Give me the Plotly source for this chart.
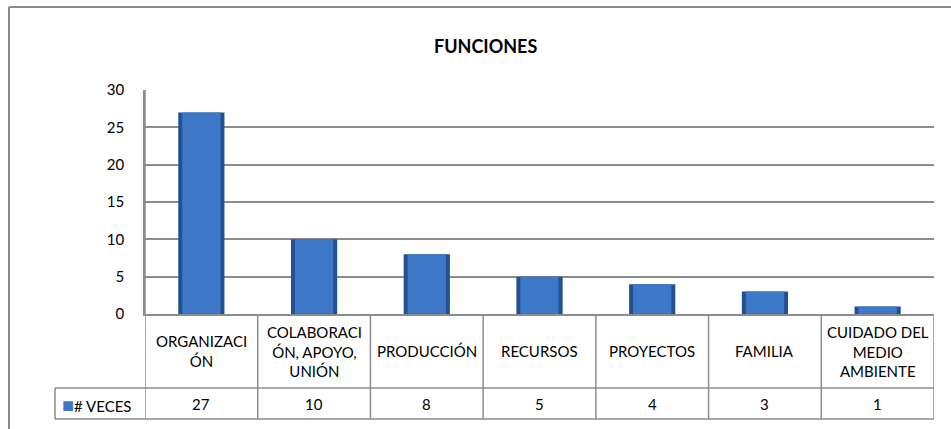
import plotly.graph_objects as go

categorias = ["ORGANIZACIÓN", "COLABORACIÓN, APOYO, UNIÓN", "PRODUCCIÓN", "RECURSOS",
              "PROYECTOS", "FAMILIA", "CUIDADO DEL MEDIO AMBIENTE"]
etiquetas = ["ORGANIZACI<br>ÓN", "COLABORACI<br>ÓN, APOYO,<br>UNIÓN", "PRODUCCIÓN", "RECURSOS",
             "PROYECTOS", "FAMILIA", "CUIDADO DEL<br>MEDIO<br>AMBIENTE"]
veces = [27, 10, 8, 5, 4, 3, 1]
serie = "# VECES"
titulo = "FUNCIONES"
y_ticks = [0, 5, 10, 15, 20, 25, 30]

FONT = "Lato"
FS = 15
GRIS = "#8c8c8c"
AZUL = "#3c77c8"
AZUL_OSC = "#24508f"

# pixel -> paper helpers (plot area 145..934 x, 90..314 y)
L, R, T, B = 145, 934, 90, 314
def px(x):
    return (x - L) / (R - L)
def py(y):
    return (B - y) / (B - T)

n = len(categorias)
xs = list(range(n))

fig = go.Figure()
fig.add_trace(go.Bar(x=xs, y=veces, width=0.41, marker=dict(color=AZUL_OSC, line=dict(width=0)),
                     name=serie, hoverinfo="skip"))
fig.add_trace(go.Bar(x=xs, y=veces, width=0.34, marker=dict(color=AZUL, line=dict(width=0)),
                     name=serie, hovertemplate="%{customdata}: %{y}<extra></extra>",
                     customdata=categorias))

shapes = []
line = dict(color=GRIS, width=1.5)
# table horizontal lines
for yy in (388, 419):
    shapes.append(dict(type="line", xref="paper", yref="paper", x0=px(55), x1=1, y0=py(yy), y1=py(yy), line=line))
# column separators
for i in range(n + 1):
    shapes.append(dict(type="line", xref="x", yref="paper", x0=i - 0.5, x1=i - 0.5,
                       y0=py(419), y1=0 if i > 0 else 1, line=line))
shapes.append(dict(type="line", xref="paper", yref="paper", x0=px(55), x1=px(55), y0=py(388), y1=py(419), line=line))
# outer chart border (left + top)
shapes.append(dict(type="line", xref="paper", yref="paper", x0=px(9), x1=px(9), y0=py(7), y1=py(440),
                   line=dict(color="#8a8a8a", width=2)))
shapes.append(dict(type="line", xref="paper", yref="paper", x0=px(9), x1=px(960), y0=py(7), y1=py(7),
                   line=dict(color="#8a8a8a", width=2)))

annots = []
for i in range(n):
    annots.append(dict(x=i, xref="x", y=py(351), yref="paper", text=etiquetas[i], showarrow=False,
                       yanchor="middle", font=dict(size=FS, color="#000")))
    annots.append(dict(x=i, xref="x", y=py(403.5), yref="paper", text=str(veces[i]), showarrow=False,
                       yanchor="middle", font=dict(size=FS, color="#000")))
annots.append(dict(x=px(60), xref="paper", y=py(403.5), yref="paper", xanchor="left", yanchor="middle",
                   text=f"<span style='color:{AZUL};font-size:20px'>■</span>{serie}", showarrow=False,
                   font=dict(size=FS, color="#000")))
annots.append(dict(x=px(485), xref="paper", y=py(46), yref="paper", text=f"<b>{titulo}</b>",
                   showarrow=False, yanchor="middle", font=dict(size=18, color="#000")))

fig.update_layout(
    width=951, height=429,
    margin=dict(l=L, r=951 - R, t=T, b=429 - B),
    paper_bgcolor="white", plot_bgcolor="white",
    font=dict(family=FONT, size=FS, color="#000"),
    showlegend=False, barmode="overlay",
    shapes=shapes, annotations=annots,
    xaxis=dict(range=[-0.5, n - 0.5], showticklabels=False, showgrid=False, zeroline=False,
               showline=True, linecolor=GRIS, linewidth=1.5, fixedrange=True),
    yaxis=dict(range=[0, 30], tickvals=y_ticks, showgrid=True, gridcolor=GRIS, gridwidth=1.5,
               zeroline=False, showline=True, linecolor=GRIS, linewidth=1.5,
               ticks="", ticklabelstandoff=16, tickfont=dict(size=FS), fixedrange=True),
)

fig.write_html("out.html", config={"displayModeBar": False},
               post_script="document.body.style.margin='0';")
